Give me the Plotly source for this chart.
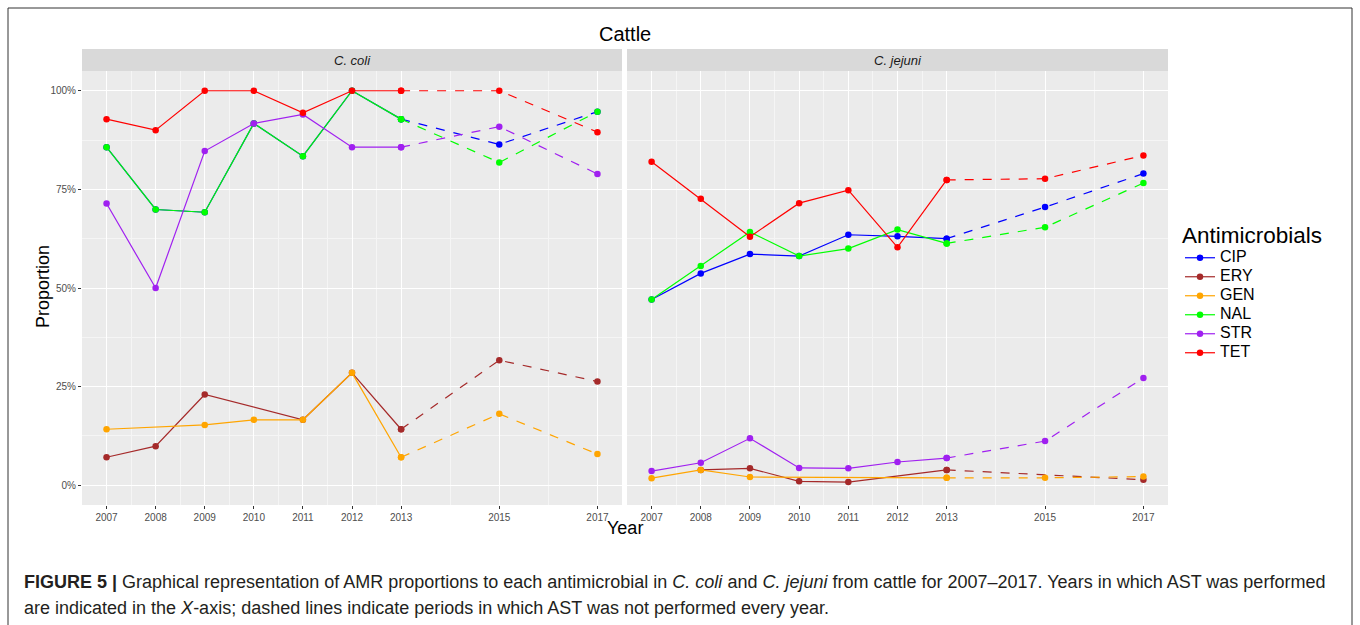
import plotly.graph_objects as go

# ---------------- data ----------------
years = [2007, 2008, 2009, 2010, 2011, 2012, 2013, 2015, 2017]
tick_labels = ["2007", "2008", "2009", "2010", "2011", "2012", "2013", "2015", "2017"]
drugs = ["CIP", "ERY", "GEN", "NAL", "STR", "TET"]
panels = ["C. coli", "C. jejuni"]

# C. coli (percent resistant)
CIP_coli = [85.7, 69.9, 69.2, 91.7, 83.4, 100.0, 92.8, 86.4, 94.7]
ERY_coli = [7.1, 9.9, 23.0, None, 16.6, 28.5, 14.2, 31.7, 26.3]
GEN_coli = [14.2, None, 15.3, 16.6, 16.6, 28.5, 7.1, 18.1, 7.9]
NAL_coli = [85.7, 69.9, 69.2, 91.7, 83.4, 100.0, 92.8, 81.8, 94.7]
STR_coli = [71.4, 50.0, 84.7, 91.7, 94.0, 85.7, 85.7, 90.9, 78.9]
TET_coli = [92.8, 90.0, 100.0, 100.0, 94.4, 100.0, 100.0, 100.0, 89.5]

# C. jejuni (percent resistant)
CIP_jej = [47.1, 53.7, 58.6, 58.1, 63.5, 63.1, 62.5, 70.5, 79.0]
ERY_jej = [None, 3.9, 4.3, 1.0, 0.8, None, 3.9, None, 1.4]
GEN_jej = [1.8, 3.9, 2.1, None, None, None, 1.9, 1.9, 2.2]
NAL_jej = [47.1, 55.6, 64.2, 58.1, 60.0, 64.8, 61.3, 65.4, 76.6]
STR_jej = [3.6, 5.7, 11.9, 4.4, 4.3, 5.9, 6.9, 11.2, 27.2]
TET_jej = [82.0, 72.6, 63.0, 71.5, 74.8, 60.3, 77.4, 77.7, 83.6]

y_ticks = [0, 25, 50, 75, 100]
y_tick_labels = ["0%", "25%", "50%", "75%", "100%"]

colors = {"CIP": "#0000FF", "ERY": "#A52A2A", "GEN": "#FFA500",
          "NAL": "#00FF00", "STR": "#A020F0", "TET": "#FF0000"}

data = {
    "C. coli": {"CIP": CIP_coli, "ERY": ERY_coli, "GEN": GEN_coli,
                "NAL": NAL_coli, "STR": STR_coli, "TET": TET_coli},
    "C. jejuni": {"CIP": CIP_jej, "ERY": ERY_jej, "GEN": GEN_jej,
                  "NAL": NAL_jej, "STR": STR_jej, "TET": TET_jej},
}

FONT = "Liberation Sans, Arial, sans-serif"
SPLIT = 2013  # years after this were not tested every year -> dashed

fig = go.Figure()

for pi, panel in enumerate(panels):
    xa = "x" if pi == 0 else "x2"
    ya = "y" if pi == 0 else "y2"
    for d in drugs:
        vals = data[panel][d]
        pts = [(x, v) for x, v in zip(years, vals) if v is not None]
        solid = [(x, v) for x, v in pts if x <= SPLIT]
        dashed = [(x, v) for x, v in pts if x >= SPLIT]
        col = colors[d]
        fig.add_trace(go.Scatter(
            x=[p[0] for p in solid], y=[p[1] for p in solid],
            mode="lines+markers",
            name="<span style='font-size:16px'>%s</span>" % d,
            legendgroup=d, showlegend=(pi == 0),
            line=dict(color=col, width=1.2),
            marker=dict(color=col, size=6.5),
            xaxis=xa, yaxis=ya))
        fig.add_trace(go.Scatter(
            x=[p[0] for p in dashed], y=[p[1] for p in dashed],
            mode="lines+markers", name=d, legendgroup=d, showlegend=False,
            line=dict(color=col, width=1.2, dash="dash"),
            marker=dict(color=col, size=6.5),
            xaxis=xa, yaxis=ya))

# ---------------- layout ----------------
L, R, T, B = 82, 1168, 71, 505
W, H = 1360, 625
pw, ph = R - L, B - T

def px_x(p):
    return (p - L) / pw

def px_y(p):
    return (B - p) / ph

minor_x = [2007.5, 2008.5, 2009.5, 2010.5, 2011.5, 2012.5, 2014, 2016]
minor_y = [12.5, 37.5, 62.5, 87.5]

xcommon = dict(range=[2006.5, 2017.5], tickmode="array", tickvals=years,
               ticktext=tick_labels, showgrid=True, gridcolor="white",
               gridwidth=1.1, zeroline=False, showline=False,
               ticks="outside", ticklen=3, tickcolor="#333333",
               tickfont=dict(family=FONT, size=10, color="#4D4D4D"),
               minor=dict(tickvals=minor_x, showgrid=True,
                          gridcolor="#F5F5F5", gridwidth=0.6, ticks=""))
ycommon = dict(range=[-5, 105], tickmode="array", tickvals=y_ticks,
               ticktext=y_tick_labels, showgrid=True, gridcolor="white",
               gridwidth=1.1, zeroline=False, showline=False,
               tickfont=dict(family=FONT, size=10, color="#4D4D4D"),
               minor=dict(tickvals=minor_y, showgrid=True,
                          gridcolor="#F5F5F5", gridwidth=0.6, ticks=""))

gap_l = px_x(622)
gap_r = px_x(627)

fig.update_layout(
    width=W, height=H,
    margin=dict(l=L, r=W - R, t=T, b=H - B),
    paper_bgcolor="white",
    plot_bgcolor="#EBEBEB",
    font=dict(family=FONT, color="black"),
    xaxis=dict(domain=[0, gap_l], anchor="y", **xcommon),
    xaxis2=dict(domain=[gap_r, 1], anchor="y2", **xcommon),
    yaxis=dict(domain=[0, 1], anchor="x", ticks="outside", ticklen=3,
               tickcolor="#333333", **ycommon),
    yaxis2=dict(domain=[0, 1], anchor="x2", matches="y",
                showticklabels=False, ticks="", **ycommon),
    showlegend=True,
    legend=dict(x=px_x(1180), y=px_y(214), xanchor="left", yanchor="top",
                title=dict(text="Antimicrobials",
                           font=dict(family=FONT, size=22.5, color="black")),
                font=dict(family=FONT, size=12, color="black"),
                tracegroupgap=0, itemwidth=30, bgcolor="rgba(0,0,0,0)"),
)

shapes = []
for x0, x1 in [(0, gap_l), (gap_r, 1)]:
    shapes.append(dict(type="rect", xref="paper", yref="paper",
                       x0=x0, x1=x1, y0=1, y1=px_y(49),
                       fillcolor="#D9D9D9", line=dict(width=0), layer="below"))
shapes.append(dict(type="rect", xref="paper", yref="paper",
                   x0=gap_l, x1=gap_r, y0=0, y1=1,
                   fillcolor="white", line=dict(width=0), layer="below"))
shapes.append(dict(type="rect", xref="paper", yref="paper",
                   x0=px_x(8), x1=px_x(1352), y0=px_y(640), y1=px_y(8),
                   line=dict(color="#333333", width=1),
                   fillcolor="rgba(0,0,0,0)"))
fig.update_layout(shapes=shapes)

ann = []
ann.append(dict(text="Cattle", x=px_x(625), y=px_y(34), xref="paper",
                yref="paper", showarrow=False, xanchor="center",
                yanchor="middle", font=dict(family=FONT, size=20, color="black")))
ann.append(dict(text="<i>C. coli</i>", x=(0 + gap_l) / 2, y=px_y(60),
                xref="paper", yref="paper", showarrow=False,
                xanchor="center", yanchor="middle",
                font=dict(family=FONT, size=13, color="#1A1A1A")))
ann.append(dict(text="<i>C. jejuni</i>", x=(gap_r + 1) / 2, y=px_y(60),
                xref="paper", yref="paper", showarrow=False,
                xanchor="center", yanchor="middle",
                font=dict(family=FONT, size=13, color="#1A1A1A")))
ann.append(dict(text="Year", x=px_x(625), y=px_y(528), xref="paper",
                yref="paper", showarrow=False, xanchor="center",
                yanchor="middle", font=dict(family=FONT, size=18, color="black")))
ann.append(dict(text="Proportion", x=px_x(43), y=px_y(287), xref="paper",
                yref="paper", showarrow=False, xanchor="center",
                yanchor="middle", textangle=-90,
                font=dict(family=FONT, size=18, color="black")))
cap1 = ("<b>FIGURE 5 |</b> Graphical representation of AMR proportions to each "
        "antimicrobial in <i>C. coli</i> and <i>C. jejuni</i> from cattle for "
        "2007–2017. Years in which AST was performed")
cap2 = ("are indicated in the <i>X</i>-axis; dashed lines indicate periods in "
        "which AST was not performed every year.")
ann.append(dict(text=cap1, x=px_x(22), y=px_y(582), xref="paper", yref="paper",
                showarrow=False, xanchor="left", yanchor="middle",
                font=dict(family=FONT, size=18, color="#231F20")))
ann.append(dict(text=cap2, x=px_x(22), y=px_y(608), xref="paper", yref="paper",
                showarrow=False, xanchor="left", yanchor="middle",
                font=dict(family=FONT, size=18, color="#231F20")))
fig.update_layout(annotations=ann)

fig.write_html("out.html")
